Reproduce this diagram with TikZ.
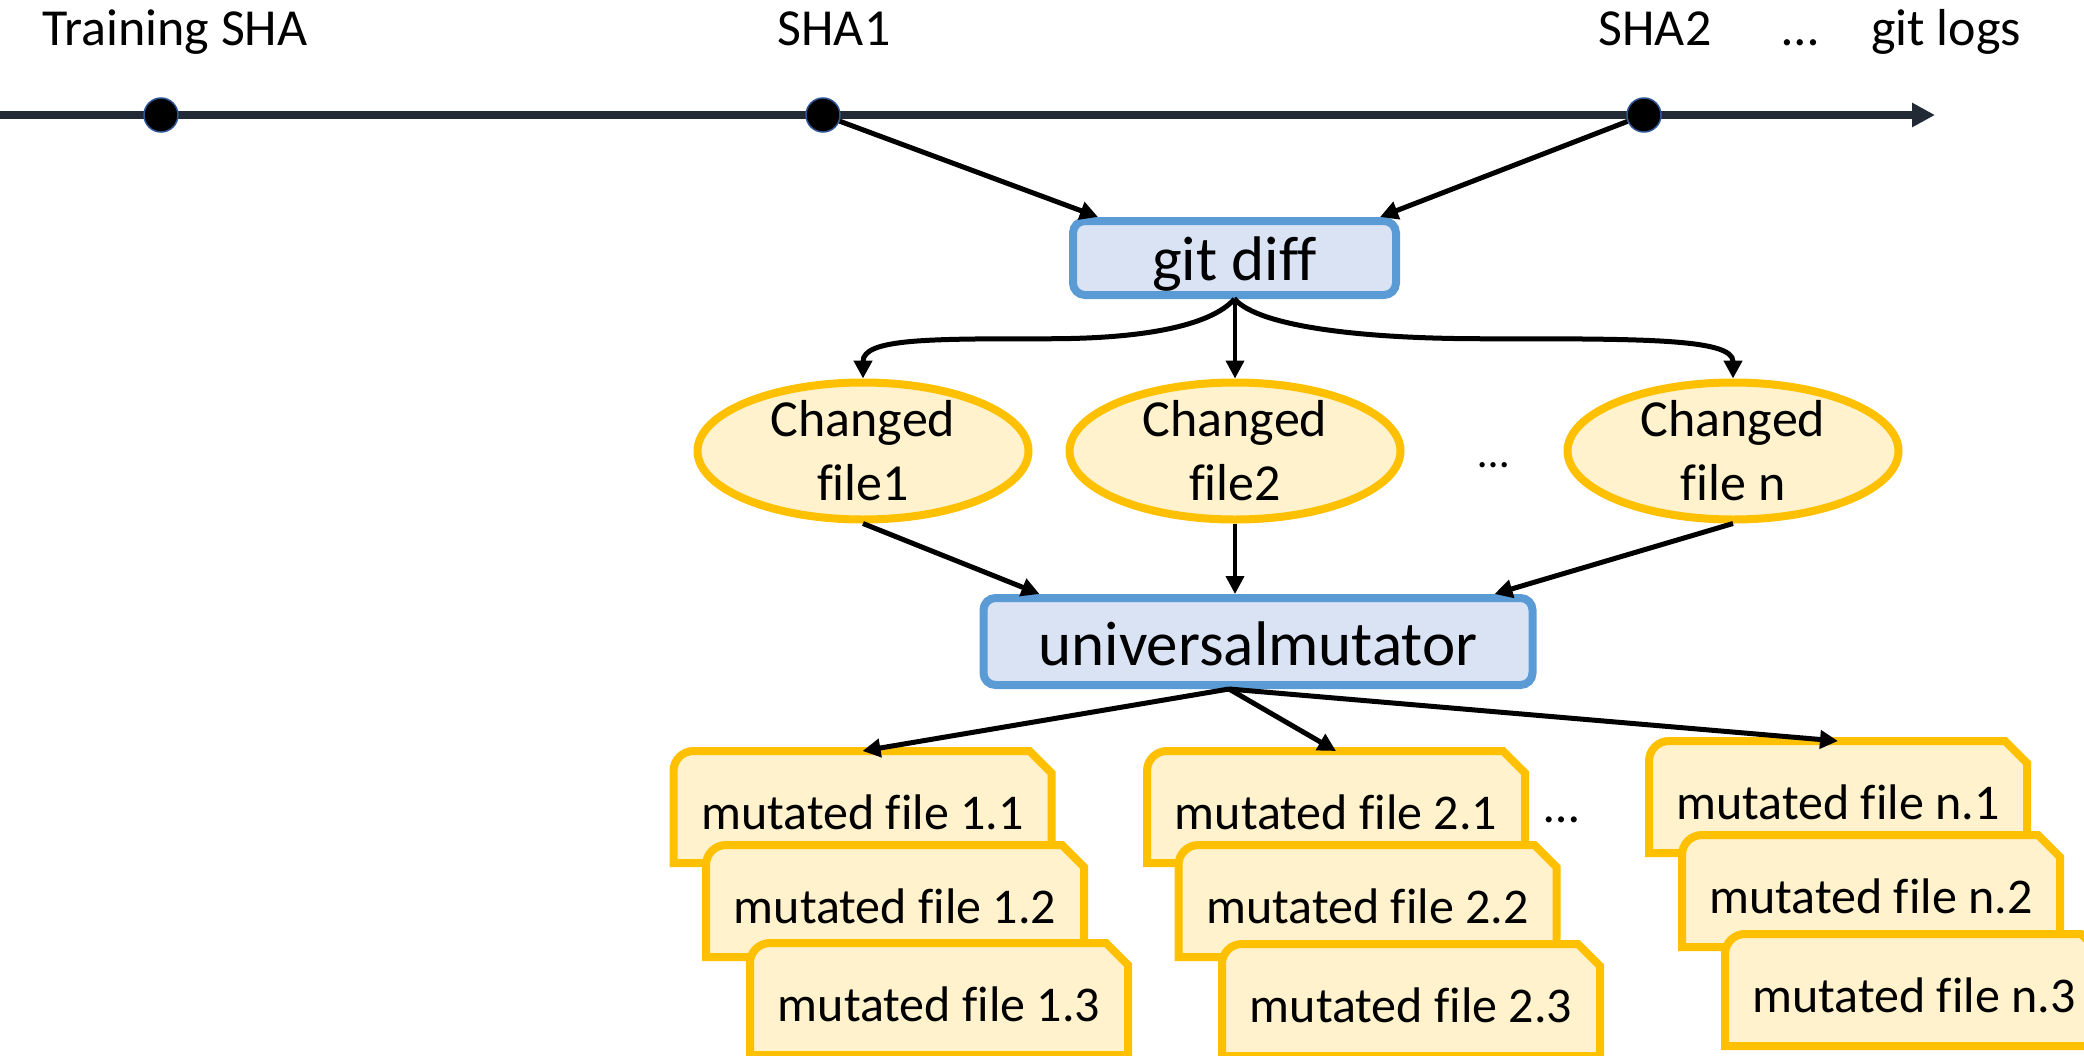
\documentclass[tikz,border=0pt]{standalone}
\usepackage{fontspec}
\setmainfont{Carlito}[Ligatures=CommonOff]
\usetikzlibrary{arrows.meta,shapes.geometric,calc}

\definecolor{tlcol}{HTML}{222A35}
\definecolor{dotrim}{HTML}{2F5597}
\definecolor{boxline}{HTML}{5B9BD5}
\definecolor{boxfill}{HTML}{DAE3F3}
\definecolor{fileline}{HTML}{FFC000}
\definecolor{filefill}{HTML}{FFF2CC}

\tikzset{
  lbl/.style={anchor=base, inner sep=0pt, font=\fontsize{52}{64}\selectfont},
  commit/.style={circle, minimum size=34pt, inner sep=0pt, fill=black, draw=dotrim, line width=1.5pt},
  tool/.style={rectangle, rounded corners=12pt, draw=boxline, fill=boxfill, line width=8pt,
    inner sep=0pt, text depth=0pt, font=\fontsize{63}{63}\selectfont},
  changed/.style={ellipse, draw=fileline, fill=filefill, line width=8pt,
    minimum width=331pt, minimum height=137pt, inner sep=0pt},
  ctext/.style={align=center, inner sep=0pt, font=\fontsize{52}{64}\selectfont},
  mfile/.style={rectangle, minimum width=378pt, minimum height=112pt, inner sep=0pt, outer sep=0pt,
    text height=44pt, text depth=0pt, font=\fontsize{50}{60}\selectfont},
  mshape/.style={draw=fileline, fill=filefill, line width=8pt},
  flow/.style={line width=5pt, -{Triangle[length=18pt,width=18pt]}},
  thinflow/.style={flow, line width=4pt},
  timeline/.style={line width=7.7pt, draw=tlcol, -{Triangle[length=23pt,width=23pt]}},
}

% mutated file card: rounded top-left corner, snipped top-right corner
\newcommand\mutfile[4]{% name, centre x, centre y, text
  \path[mshape] ({#2-189},{#3+56}) [rounded corners=20pt] -- ({#2-189},{#3-56}) [sharp corners]
    -- ({#2+167},{#3-56}) -- ({#2+189},{#3-34}) -- ({#2+189},{#3+56}) -- cycle;
  \node[mfile] (#1) at (#2,#3) {#4};
}

\begin{document}
\begin{tikzpicture}[x=1pt, y=-1pt]
\path[use as bounding box, clip] (0,0) rectangle (2084,1055);

% commit history
\coordinate (tl0) at (0,115);
\coordinate (tl1) at (1935,115);
\draw[timeline] (tl0) -- (tl1);
\node[commit] (d0) at (161,115) {};
\node[commit] (d1) at (823,115) {};
\node[commit] (d2) at (1644,115) {};

\node[lbl] (ltrain) at (175,45) {Training SHA};
\node[lbl] (lsha1) at (834,45) {SHA1};
\node[lbl] (lsha2) at (1655,45) {SHA2};
\node[lbl] (ldots) at (1800,45) {…};
\node[lbl] (llogs) at (1946,45) {git logs};

% diff step
\node[tool, minimum width=323pt, minimum height=74pt, text height=44pt] (gd) at (1234.5,258) {git diff};
\draw[flow] (d1) -- ([xshift=29pt]gd.north west);
\draw[flow] (d2) -- ([xshift=-20pt]gd.north east);

% changed files
\node[changed] (cf1) at (863,451) {};
\node[ctext] (cf1t) at (cf1) {Changed\\file1};
\node[changed] (cf2) at (1235,451) {};
\node[ctext] (cf2t) at (cf2) {Changed\\file2};
\node[changed] (cfn) at (1733,451) {};
\node[ctext] (cfnt) at (cfn) {Changed\\file n};
\node[lbl, font=\fontsize{44}{50}\selectfont] (cfdots) at (1494,467) {…};

\coordinate (c1) at ($(gd.south)!0.5!(cf1.north)$);
\coordinate (c3) at ($(gd.south)!0.5!(cfn.north)$);
\draw[flow] (gd.south) .. controls +(-25,28) and +(90,0) .. (c1)
  .. controls +(-120,0) and +(0,-40) .. (cf1.north);
\draw[thinflow] (gd.south) -- (gd.south -| cf2.north) -- (cf2.north);
\draw[flow] (gd.south) .. controls +(25,28) and +(-120,0) .. (c3)
  .. controls +(160,0) and +(0,-40) .. (cfn.north);

% mutation step
\node[tool, minimum width=549pt, minimum height=87pt, text height=47pt] (um) at (1258,641.5) {universalmutator};
\draw[flow] (cf1.south) -- ([xshift=60pt]um.north west);
\draw[thinflow] (cf2.south) -- (cf2.south |- um.north);
\draw[flow] (cfn.south) -- ([xshift=-42pt]um.north east);

% mutated files
\mutfile{m11}{862.5}{807}{mutated file 1.1}
\mutfile{m12}{895}{901}{mutated file 1.2}
\mutfile{m13}{939}{999}{mutated file 1.3}
\mutfile{m21}{1336}{807}{mutated file 2.1}
\mutfile{m22}{1367.5}{901}{mutated file 2.2}
\mutfile{m23}{1411}{1000}{mutated file 2.3}
\mutfile{mn1}{1838}{797}{mutated file n.1}
\mutfile{mn2}{1871}{891}{mutated file n.2}
\mutfile{mn3}{1914}{990}{mutated file n.3}
\node[lbl, font=\fontsize{50}{60}\selectfont] (mdots) at (1562,822) {…};

\coordinate (umo) at ([xshift=-29pt]um.south);
\draw[flow] (umo) -- (m11.north);
\draw[flow] (umo) -- (m21.north);
\draw[flow] (umo) -- (mn1.north);
\end{tikzpicture}
\end{document}
